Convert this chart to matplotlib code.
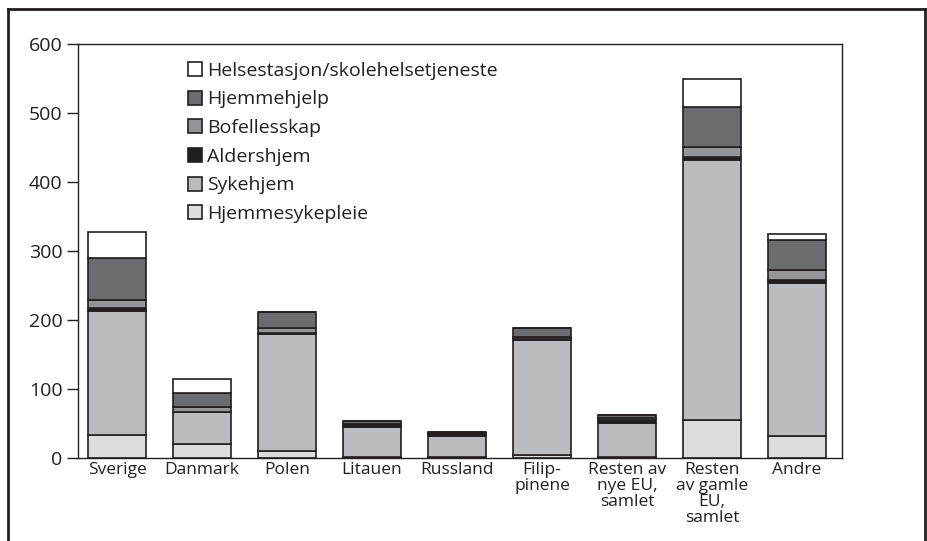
import matplotlib
matplotlib.use("Agg")
import matplotlib.pyplot as plt
import numpy as np
from matplotlib.lines import Line2D

categories = ["Sverige", "Danmark", "Polen", "Litauen", "Russland",
              "Filip-\npinene", "Resten av\nnye EU,\nsamlet",
              "Resten\nav gamle\nEU,\nsamlet", "Andre"]

series_names = ["Hjemmesykepleie", "Sykehjem", "Aldershjem", "Bofellesskap",
                "Hjemmehjelp", "Helsestasjon/skolehelsetjeneste"]

hjemmesykepleie = [33, 20, 10, 2, 1, 5, 2, 55, 32]
sykehjem        = [180, 46, 170, 43, 31, 166, 49, 377, 222]
aldershjem      = [4, 1, 1, 3, 3, 1, 4, 4, 4]
bofellesskap    = [12, 7, 7, 2, 1, 4, 3, 14, 14]
hjemmehjelp     = [61, 20, 23, 3, 2, 13, 5, 59, 44]
helsestasjon    = [38, 20, 0, 0, 0, 0, 0, 40, 8]

series = [hjemmesykepleie, sykehjem, aldershjem, bofellesskap, hjemmehjelp, helsestasjon]
colors = ["#dcdddf", "#bbbcbf", "#231f20", "#949599", "#6b6c70", "#ffffff"]

yticks = [0, 100, 200, 300, 400, 500, 600]

ink = "#231f20"
plt.rcParams['font.family'] = ['Open Sans', 'DejaVu Sans']

fig = plt.figure(figsize=(9.27, 5.41), dpi=100)
ax = fig.add_axes([78/927, 83/541, (842-78)/927, (458-44)/541])

x = np.arange(len(categories))
bottom = np.zeros(len(categories))
for name, vals, c in zip(series_names, series, colors):
    v = np.array(vals, dtype=float)
    ax.bar(x, v, bottom=bottom, width=0.68, color=c, edgecolor=ink,
           linewidth=1.2, label=name)
    bottom += v

ax.set_xlim(-0.46, 8.53)
ax.set_ylim(0, 600)
ax.set_yticks(yticks)
ax.set_yticklabels([str(t) for t in yticks], fontsize=14, color=ink)
ax.tick_params(axis='y', direction='out', length=8, width=1, color=ink, pad=3)
ax.set_xticks(x)
ax.set_xticklabels(categories, fontsize=12.5, color=ink, linespacing=1.0)
ax.tick_params(axis='x', length=0, pad=3)
for s in ax.spines.values():
    s.set_color(ink)
    s.set_linewidth(1.0)

h, l = ax.get_legend_handles_labels()
leg = ax.legend(h[::-1], l[::-1], loc='upper left', bbox_to_anchor=(0.134, 0.976),
                frameon=False, fontsize=14, handlelength=0.72, handleheight=0.72,
                handletextpad=0.25, labelspacing=0.55, borderaxespad=0)
for t in leg.get_texts():
    t.set_color(ink)

# outer frame
fig.add_artist(Line2D([8/927, 8/927], [0, 1 - 9/541], transform=fig.transFigure,
                      color=ink, linewidth=2))
fig.add_artist(Line2D([8/927, 925/927], [1 - 9/541, 1 - 9/541], transform=fig.transFigure,
                      color=ink, linewidth=2))
fig.add_artist(Line2D([925/927, 925/927], [0, 1 - 9/541], transform=fig.transFigure,
                      color=ink, linewidth=2))

fig.savefig("out.png", dpi=100)
